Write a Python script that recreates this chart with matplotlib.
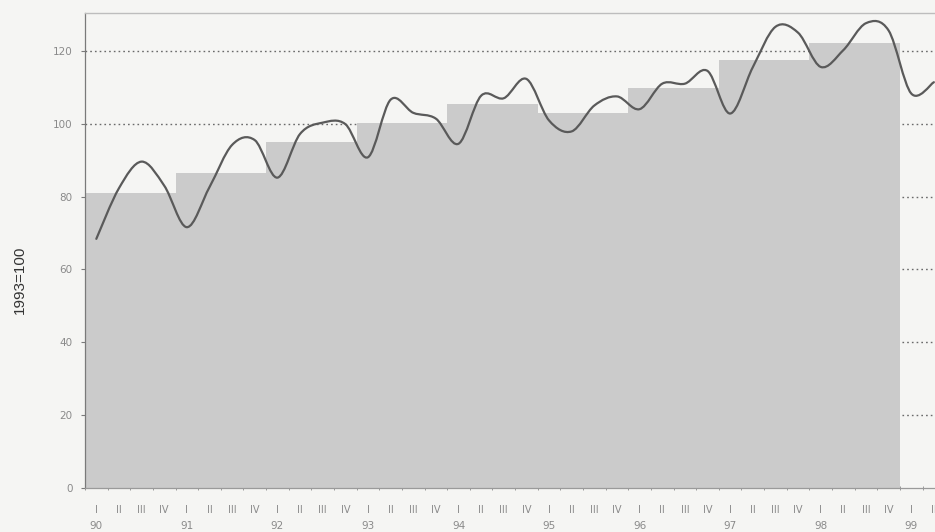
import matplotlib
matplotlib.use("Agg")
import matplotlib.pyplot as plt
from matplotlib.path import Path
from matplotlib.patches import PathPatch
import numpy as np

# ---- data ----
years = ["90", "91", "92", "93", "94", "95", "96", "97", "98", "99"]
quarters = ["I", "II", "III", "IV"]
annual_values = [80.9, 86.4, 95.0, 100.3, 105.5, 103.0, 109.8, 117.5, 122.3]
quarterly_values = [
    68.4, 82.3, 89.6, 83.0,     # 1990
    71.6, 82.6, 94.2, 95.5,     # 1991
    85.2, 97.2, 100.3, 99.9,    # 1992
    90.8, 106.6, 103.0, 101.4,  # 1993
    94.5, 107.7, 107.0, 112.3,  # 1994
    100.9, 97.9, 105.0, 107.5,  # 1995
    104.0, 111.0, 111.0, 114.5, # 1996
    102.8, 115.5, 126.6, 125.0, # 1997
    115.6, 120.2, 127.6, 125.6, # 1998
    108.3, 111.4,               # 1999
]
y_ticks = [0, 20, 40, 60, 80, 100, 120]
y_label = "1993=100"

bg = "#f5f5f3"
bar_color = "#cbcbcb"
line_color = "#5a5a5a"
text_color = "#8a8a8a"

fig = plt.figure(figsize=(9.35, 5.32), dpi=100, facecolor=bg)
ax = fig.add_axes([85 / 935, (532 - 488) / 532, 1 - 85 / 935, (488 - 13) / 532])
ax.set_facecolor(bg)

# bars (one per year, spanning its four quarters)
bar_x = [4 * i for i in range(len(annual_values))]
ax.bar(bar_x, annual_values, width=4, align="edge", color=bar_color,
       edgecolor="none", zorder=2)

# smooth quarterly line (Catmull-Rom through the points, as Bezier path)
qx = np.arange(len(quarterly_values)) + 0.5
qy = np.array(quarterly_values)
verts = [(qx[0], qy[0])]
codes = [Path.MOVETO]
n = len(qx)
for i in range(n - 1):
    p0 = np.array([qx[max(i - 1, 0)], qy[max(i - 1, 0)]])
    p1 = np.array([qx[i], qy[i]])
    p2 = np.array([qx[i + 1], qy[i + 1]])
    p3 = np.array([qx[min(i + 2, n - 1)], qy[min(i + 2, n - 1)]])
    c1 = p1 + (p2 - p0) / 6.0
    c2 = p2 - (p3 - p1) / 6.0
    verts += [tuple(c1), tuple(c2), tuple(p2)]
    codes += [Path.CURVE4, Path.CURVE4, Path.CURVE4]
ax.add_patch(PathPatch(Path(verts, codes), facecolor="none",
                       edgecolor=line_color, lw=1.6, zorder=3,
                       capstyle="round", joinstyle="round"))

# axes limits
ax.set_xlim(0, 37.55)
ax.set_ylim(0, 130.4)

# grid
for v in y_ticks[1:]:
    ax.axhline(v, color="#6a6a6a", lw=1.0, ls=(0, (1.2, 2.2)), zorder=1)

# spines
ax.spines["right"].set_visible(False)
ax.spines["top"].set_color("#bdbdbd")
ax.spines["top"].set_linewidth(1.0)
ax.spines["left"].set_color("#7a7a7a")
ax.spines["left"].set_linewidth(0.9)
ax.spines["bottom"].set_color("#9a9a9a")
ax.spines["bottom"].set_linewidth(0.9)
ax.spines["bottom"].set_zorder(4)

# y ticks
ax.set_yticks(y_ticks)
ax.set_yticklabels([str(v) for v in y_ticks], fontsize=7.5, color=text_color,
                   family="DejaVu Sans")
ax.tick_params(axis="y", length=3, width=0.8, color="#7a7a7a", pad=6)

# x ticks: quarter boundaries as small ticks, labels as text
ax.set_xticks(np.arange(0, 38, 1))
ax.set_xticklabels([])
ax.tick_params(axis="x", length=3, width=0.7, color="#9a9a9a", direction="inout")

nq = 38
for k in range(nq):
    ax.text(k + 0.5, -0.036, quarters[k % 4], transform=ax.get_xaxis_transform(),
            ha="center", va="top", fontsize=7, color=text_color,
            family="DejaVu Sans")
for i, yl in enumerate(years):
    ax.text(4 * i + 0.5, -0.069, yl, transform=ax.get_xaxis_transform(),
            ha="center", va="top", fontsize=7.5, color=text_color,
            family="DejaVu Sans")

fig.text(20 / 935, 1 - 280 / 532, y_label, rotation=90, ha="center",
         va="center", fontsize=11, color="#333333", family="Liberation Sans")

fig.savefig("out.png", dpi=100, facecolor=bg)
